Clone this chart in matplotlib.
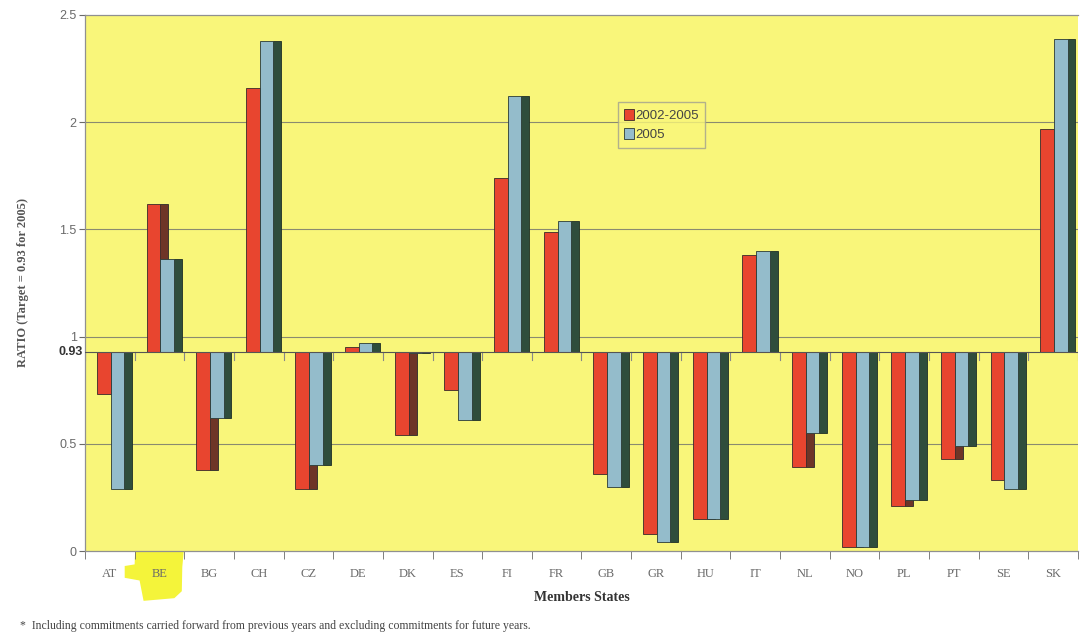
import matplotlib.pyplot as plt
import matplotlib.patches as mpatches
from matplotlib.transforms import blended_transform_factory
import numpy as np

TARGET = 0.93
states = ['AT', 'BE', 'BG', 'CH', 'CZ', 'DE', 'DK', 'ES', 'FI', 'FR',
          'GB', 'GR', 'HU', 'IT', 'NL', 'NO', 'PL', 'PT', 'SE', 'SK']
ratio_0205 = [0.73, 1.62, 0.38, 2.16, 0.29, 0.95, 0.54, 0.75, 1.74, 1.49,
              0.36, 0.08, 0.15, 1.38, 0.39, 0.02, 0.21, 0.43, 0.33, 1.97]
ratio_2005 = [0.29, 1.36, 0.62, 2.38, 0.40, 0.97, 0.925, 0.61, 2.12, 1.54,
              0.30, 0.04, 0.15, 1.40, 0.55, 0.02, 0.24, 0.49, 0.29, 2.39]
yticks = [0, 0.5, 1, 1.5, 2, 2.5]
ytick_labels = ['0', '0.5', '1', '1.5', '2', '2.5']

RED = '#e8452f'
RED_SIDE = '#6e3527'
BLUE = '#94bccb'
BLUE_SIDE = '#2f4d3c'
YELLOW = '#f9f67a'
GREY = '#6a6a6a'

fig = plt.figure(figsize=(10.84, 6.37), dpi=100)
ax = fig.add_axes([0.0784, 0.135, 0.916, 0.8415])
ax.set_facecolor(YELLOW)

x = np.arange(len(states))
r = np.array(ratio_0205)
b = np.array(ratio_2005)
w = 0.28
d = 0.16

# gridlines
for yv in [0.5, 1, 1.5, 2]:
    ax.axhline(yv, color='#8a8a70', lw=0.8, zorder=1)

# red: side first, then front
ax.bar(x + 0.02, r - TARGET, bottom=TARGET, width=d, align='edge',
       color=RED_SIDE, edgecolor='#2a2a2a', lw=0.6, zorder=2)
ax.bar(x - 0.26, r - TARGET, bottom=TARGET, width=w, align='edge',
       color=RED, edgecolor='#3a2a2a', lw=0.6, zorder=3, label='2002-2005')
# blue covers the red side
ax.bar(x + 0.02 + w - 0.01, b - TARGET, bottom=TARGET, width=d, align='edge',
       color=BLUE_SIDE, edgecolor='#1f2f25', lw=0.6, zorder=4)
ax.bar(x + 0.02, b - TARGET, bottom=TARGET, width=w - 0.01, align='edge',
       color=BLUE, edgecolor='#2a3a35', lw=0.6, zorder=5, label='2005')

# category axis crossing at target
ax.axhline(TARGET, color='#555555', lw=0.8, zorder=6)
for xb in np.arange(-0.5, len(states), 1.0):
    ax.plot([xb, xb], [TARGET, TARGET - 0.04], color='#888888', lw=0.8, zorder=1)

ax.set_xlim(-0.5, len(states) - 0.5)
ax.set_ylim(0, 2.5)

ax.set_yticks(yticks)
ax.set_yticklabels(ytick_labels, fontsize=9, color=GREY, family='Liberation Sans')
ax.tick_params(axis='y', length=4, color=GREY, pad=2)
ax.text(-0.55, TARGET, '0.93', ha='right', va='center', fontsize=9,
        color='#333333', family='Liberation Sans', fontweight='bold')

ax.set_xticks(x)
ax.set_xticklabels(states, fontsize=9, color=GREY, family='Liberation Serif')
ax.set_xticks(np.arange(-0.5, len(states), 1.0), minor=True)
ax.tick_params(axis='x', which='major', length=0, pad=12)
ax.tick_params(axis='x', which='minor', length=6, color=GREY)

for s in ['left', 'bottom', 'top']:
    ax.spines[s].set_color('#909090')
    ax.spines[s].set_linewidth(0.9)
ax.spines['right'].set_visible(False)

ax.set_ylabel('RATIO (Target = 0.93 for 2005)', fontsize=9, fontweight='bold',
              color='#555555', family='Liberation Serif', labelpad=22)
ax.set_xlabel('Members States', fontsize=10, fontweight='bold',
              color='#333333', family='Liberation Serif', labelpad=8)

# highlighter mark behind BE
tr = blended_transform_factory(ax.transData, ax.transAxes)
ax.add_patch(mpatches.Polygon([[0.51, 0.0], [1.49, 0.0], [1.46, -0.03],
                               [1.45, -0.075], [1.3, -0.088], [0.68, -0.093],
                               [0.6, -0.055], [0.3, -0.05], [0.3, -0.028],
                               [0.5, -0.025]],
                              closed=True, transform=tr, color='#f4f43a',
                              clip_on=False, zorder=0, lw=0))

leg = ax.legend(loc='upper left', bbox_to_anchor=(0.53, 0.85), fontsize=9.5,
                frameon=True, fancybox=False, handlelength=0.7, handleheight=0.9,
                handletextpad=0.1, borderpad=0.5, labelspacing=0.5,
                prop={'family': 'Liberation Sans', 'size': 9.5})
leg.get_frame().set_facecolor(YELLOW)
leg.get_frame().set_edgecolor('#a0a090')
for t in leg.get_texts():
    t.set_color('#444444')

fig.text(0.018, 0.013, '*  Including commitments carried forward from previous years and excluding commitments for future years.',
         fontsize=8.5, color='#444444', family='Liberation Serif')

fig.savefig('out.png', dpi=100, facecolor='white')
